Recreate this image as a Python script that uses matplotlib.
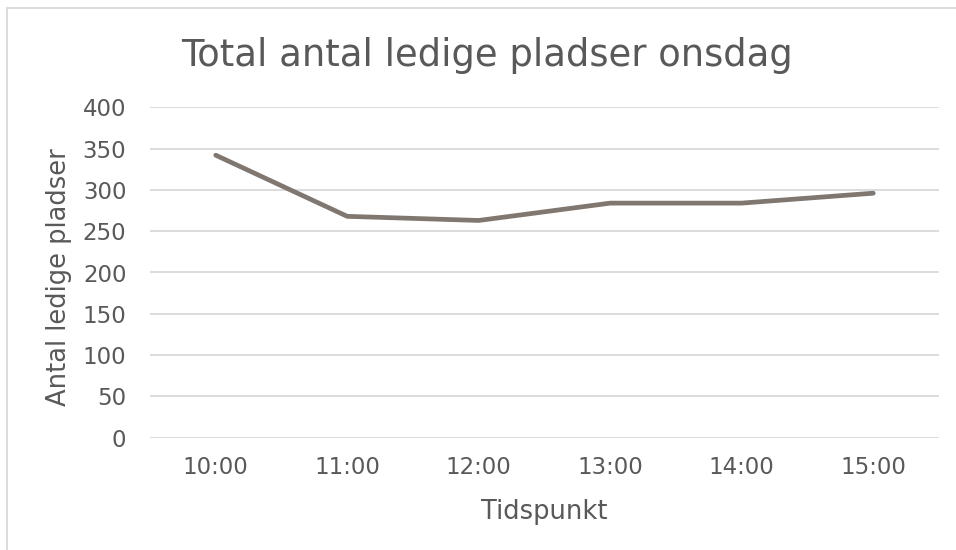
import matplotlib
matplotlib.use('Agg')
import matplotlib.pyplot as plt
from matplotlib.patches import Rectangle

# data
tider = ['10:00', '11:00', '12:00', '13:00', '14:00', '15:00']
ledige = [342, 268, 263, 284, 284, 296]
yticks = [0, 50, 100, 150, 200, 250, 300, 350, 400]

tekst = '#595959'
grid = '#d9d9d9'
linje = '#7f7770'

plt.rcParams['font.family'] = 'DejaVu Sans'

fig = plt.figure(figsize=(9.56, 5.5), dpi=100)
ax = fig.add_axes([150/956, 1-437.7/550, (939-150)/956, (437.7-107.3)/550])

# ramme rundt om diagrammet
fig.patches.append(Rectangle((7/956, -0.1), 1.2, 1-8/550+0.1, transform=fig.transFigure,
                             fill=False, edgecolor=grid, linewidth=1.3))

x = [i + 0.5 for i in range(len(tider))]
ax.plot(x, ledige, color=linje, linewidth=3.4, solid_capstyle='round', solid_joinstyle='round')

ax.set_xlim(0, len(tider))
ax.set_ylim(0, 400)
ax.set_yticks(yticks)
ax.set_xticks(x)
ax.set_xticklabels(tider)
ax.tick_params(axis='both', length=0, labelsize=16.5, labelcolor=tekst)
ax.tick_params(axis='y', pad=17)
ax.tick_params(axis='x', pad=13)
ax.grid(axis='y', color=grid, linewidth=1.3)
ax.set_axisbelow(True)
for s in ax.spines.values():
    s.set_visible(False)

ax.set_xlabel('Tidspunkt', fontsize=18.5, color=tekst, labelpad=14.5)
ax.set_ylabel('Antal ledige pladser', fontsize=18.5, color=tekst)
ax.yaxis.set_label_coords((72-150)/789, (437.7-277)/330.4)

fig.text(487/956, 1-55/550, 'Total antal ledige pladser onsdag', fontsize=26.6,
         color=tekst, ha='center', va='center')

fig.savefig('out.png', dpi=100)
